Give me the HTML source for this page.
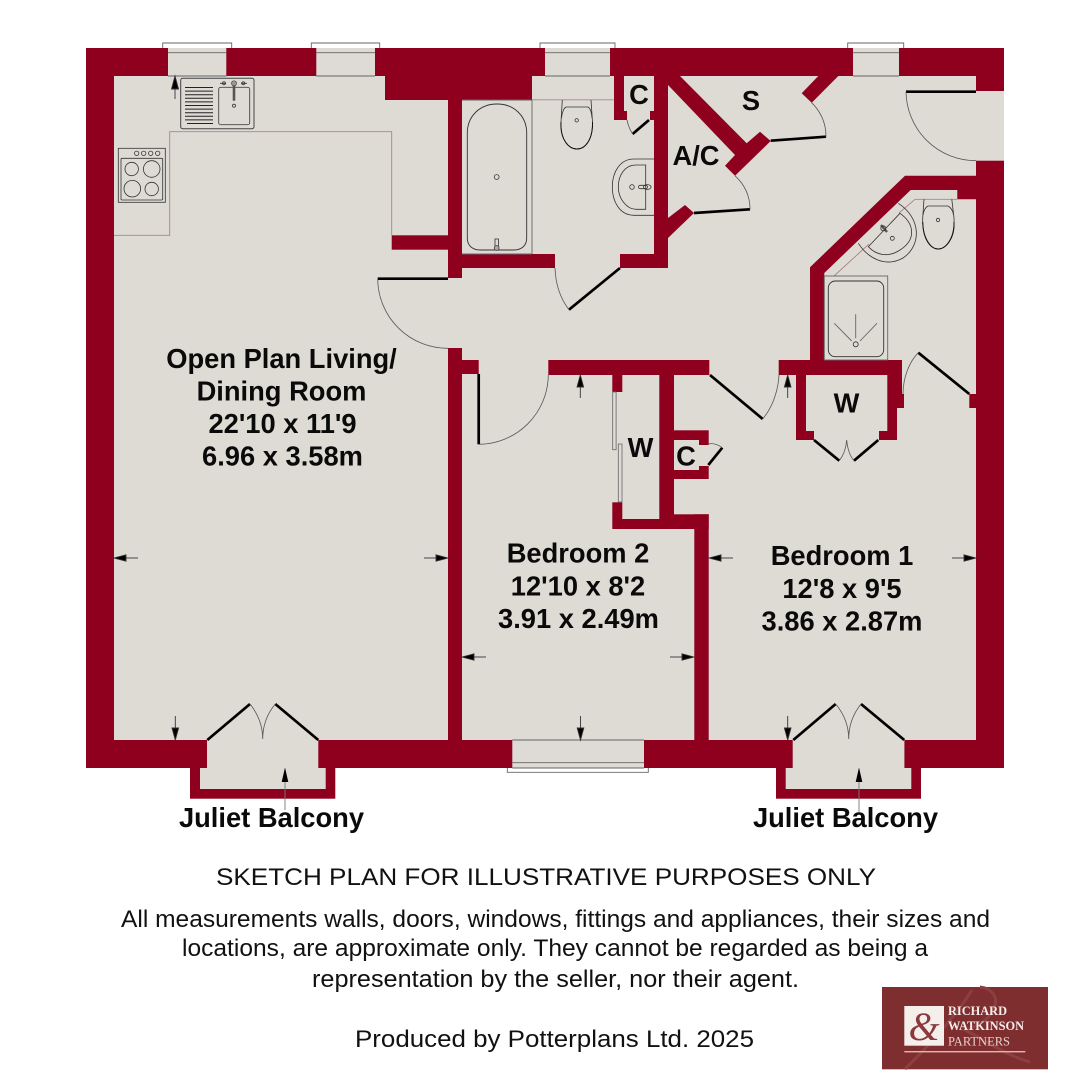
<!DOCTYPE html>
<html><head><meta charset="utf-8"><style>
html,body{margin:0;padding:0;background:#fff}
svg{display:block}
text{font-family:"Liberation Sans",sans-serif}
.b{font-weight:bold;font-size:27.3px;text-anchor:middle;fill:#0a0a0a}
.n{font-size:24px;fill:#111}
.w{fill:#8f001f}
.f{fill:#dedbd4}
.t{fill:none;stroke:#000;stroke-width:2.7}
.a{fill:none;stroke:#555;stroke-width:.8}
.g{fill:none;stroke:#666;stroke-width:.9}
.p{fill:none;stroke:#b0808a;stroke-width:.9}
.k{fill:none;stroke:#333;stroke-width:.9}
.s{stroke:#333;stroke-width:.8;fill:none}
</style></head><body>
<svg width="1088" height="1080" viewBox="0 0 1088 1080" xmlns="http://www.w3.org/2000/svg">
<rect width="1088" height="1080" fill="#fff"/>
<!-- outer shell -->
<rect class="w" x="86" y="48" width="918" height="720"/>
<rect class="w" x="190" y="768" width="145.300" height="30.700"/>
<rect class="w" x="776" y="768" width="145" height="30.700"/>
<rect class="f" x="114" y="76" width="862" height="664"/>
<!-- openings -->
<rect class="f" x="976" y="91" width="28" height="69.700"/>
<rect class="f" x="207" y="740" width="111.300" height="28"/>
<rect class="f" x="200" y="768" width="125.700" height="21"/>
<rect class="f" x="792.700" y="740" width="111.700" height="28"/>
<rect class="f" x="785.700" y="768" width="125.600" height="21"/>
<!-- windows -->
<g class="f">
<rect x="168" y="48" width="58.300" height="28"/>
<rect x="316.300" y="48" width="58.700" height="28"/>
<rect x="545" y="48" width="65" height="28"/>
<rect x="853" y="48" width="46" height="28"/>
<rect x="512.300" y="740" width="131.700" height="28"/>
</g>
<g class="g">
<path d="M162.700 48V43H231.700V48M168 52.700H226.300M168 76H226.300"/>
<path d="M311.300 48V43H379.700V48M316.300 52.700H375M316.300 76H375"/>
<path d="M540 48V43H615V48M545 52.700H610M545 76H610"/>
<path d="M847.700 48V43H903.700V48M853 52.700H899M853 76H899"/>
<path d="M512.300 740H644M512.300 762.700H644M512.300 768H644M507.300 768V772.300H648.300V768"/>
</g>
<!-- interior walls -->
<g class="w">
<rect x="385" y="76" width="147" height="24"/>
<rect x="448" y="100" width="14" height="178"/>
<rect x="391.700" y="235.300" width="56.300" height="14.400"/>
<rect x="462" y="254" width="93" height="14"/>
<rect x="620" y="254" width="48" height="14"/>
<rect x="654" y="76" width="14" height="192"/>
<rect x="614" y="76" width="10" height="44"/>
<rect x="614" y="111" width="13" height="9"/>
<rect x="650" y="111" width="4" height="9"/>
<polygon points="680,76 746.700,143.300 760,131.700 770.700,141 735,175.700 725,165.700 735,155 668,85 668,76"/>
<polygon points="668,218 685,205 694,213 668,238"/>
<polygon points="838.300,76 811.700,102.700 801.700,93.300 818.300,76"/>
<polygon points="905,175.700 976,175.700 976,199.300 957.300,199.300 957.300,190 910.700,190 824.300,273 824.300,360 810,360 810,267.300"/>
<rect x="778.700" y="360" width="123.300" height="15"/>
<rect x="796" y="375" width="10" height="65"/>
<rect x="796" y="431" width="18" height="9"/>
<rect x="887.300" y="375" width="9.700" height="65"/>
<rect x="879" y="431" width="18" height="9"/>
<rect x="897" y="375" width="5" height="19"/>
<rect x="897" y="394" width="7" height="14"/>
<rect x="969.300" y="394" width="6.700" height="14"/>
<rect x="448" y="348" width="14" height="392"/>
<rect x="462" y="360" width="16.700" height="14"/>
<rect x="548.300" y="360" width="161" height="15"/>
<rect x="612.300" y="375" width="10" height="17"/>
<rect x="612.300" y="502.300" width="10" height="17"/>
<rect x="612.300" y="519" width="82" height="10"/>
<rect x="659.300" y="375" width="14.700" height="145"/>
<rect x="674" y="514.300" width="34.700" height="14.700"/>
<rect x="694.300" y="514.300" width="14.400" height="226"/>
<rect x="674" y="430.300" width="34.700" height="9.700"/>
<rect x="699" y="440" width="9.700" height="5"/>
<rect x="699" y="466" width="9.700" height="4"/>
<rect x="674" y="470" width="34.700" height="9"/>
</g>
<!-- worktop and pink lines -->
<path class="p" d="M114 235.300H169.700V131.700H391.700V235.300"/>
<path class="p" d="M532 99.800H613.700"/>
<path class="p" d="M915 199.300H957.300M915 199.300L899 213M869 244L834 276"/>
<!-- doors -->
<g class="t">
<path d="M377.700 278.700H448"/>
<path d="M569 309.700L620 268"/>
<path d="M632.600 134L649 120"/>
<path d="M694 213L750 209.300"/>
<path d="M770.700 140.700L826 136.700"/>
<path d="M906 91.700H976"/>
<path d="M918.300 352.700L969.300 394"/>
<path d="M814 440L839.300 460.700M878.300 440L854 460.700"/>
<path d="M478.700 374V444.300"/>
<path d="M710 375L762.700 419"/>
<path d="M708.300 465L722.300 447.700"/>
<path d="M207.300 740L250 704M318.300 740L275.300 704"/>
<path d="M793.300 740L835.700 704M904.300 740L861 704"/>
</g>
<g class="a">
<path d="M377.700 278.700A70 70 0 0 0 448 348.300"/>
<path d="M555 268C555.500 283 560 298 569 309.700"/>
<path d="M627 120C628 125 630 130 632.600 134"/>
<path d="M735 175.700C745 185 750 197 750 209.300"/>
<path d="M811.700 102.700C821 112 826 124 826 136.700"/>
<path d="M906 91.700A70 70 0 0 0 976 160.700"/>
<path d="M918.300 352.700C909 362 903 378 903 394"/>
<path d="M846.700 440C846 449 843 456 839.300 460.700M846.700 440C847.500 449 850 456 854 460.700"/>
<path d="M478.700 444.300A70 70 0 0 0 548.300 375"/>
<path d="M762.700 419C772 408 778 392 779 375"/>
<path d="M722.300 447.700C717 444 713 443 708 444"/>
<path d="M250 704C258 714 262.700 726 262.700 739M275.300 704C267 714 262.700 726 262.700 739"/>
<path d="M835.700 704C844 714 848.700 726 848.700 739M861 704C853 714 848.700 726 848.700 739"/>
</g>
<!-- sliding wardrobe -->
<rect x="612.700" y="392" width="3.400" height="57.700" fill="#dedbd4" stroke="#666" stroke-width=".8"/>
<rect x="618.300" y="444" width="3.700" height="58" fill="#dedbd4" stroke="#666" stroke-width=".8"/>
<!-- sink -->
<rect x="180.700" y="78.300" width="73.300" height="50.400" rx="2" fill="#dedbd4" stroke="#444" stroke-width="1"/>
<rect x="218.700" y="87.300" width="31" height="37.400" rx="2" fill="none" stroke="#444" stroke-width=".9"/>
<path stroke="#222" stroke-width="1" d="M185 87.500H213M185 91.100H213M185 94.700H213M185 98.300H213M185 101.900H213M185 105.500H213M185 109.100H213M185 112.700H213M185 116.300H213M185 119.900H213M187 123.500H213"/>
<path d="M234 84V100.700" stroke="#555" stroke-width="2.600"/>
<circle cx="234" cy="83.300" r="2.500" fill="#999" stroke="#444" stroke-width=".7"/>
<circle cx="234" cy="105.700" r="1.500" fill="none" stroke="#333" stroke-width=".8"/>
<path class="s" d="M220 83.300H226M241 83.300H247"/>
<circle cx="224" cy="83.300" r="1.500" class="s"/><circle cx="243.300" cy="83.300" r="1.500" class="s"/>
<!-- hob -->
<g class="s">
<rect x="118.300" y="148.300" width="47" height="54"/>
<rect x="121" y="158.300" width="41.700" height="41.700" rx="1"/>
<circle cx="136.700" cy="153.300" r="2.200"/><circle cx="143.700" cy="153.300" r="2.200"/><circle cx="150.700" cy="153.300" r="2.200"/><circle cx="157.700" cy="153.300" r="2.200"/>
<circle cx="131.700" cy="169" r="6.700"/><circle cx="151.700" cy="169" r="8.300"/><circle cx="132.300" cy="188.700" r="8.300"/><circle cx="151.700" cy="189" r="6.700"/>
</g>
<!-- bath -->
<path class="g" d="M532 100V254"/>
<path class="g" d="M462 254H532M462 100H532"/>
<path class="k" stroke-width=".8" d="M467.300 133C467.300 116 480 104 497 104C514 104 526.700 116 526.700 133V238C526.700 246 521 250 514 250H480C473 250 467.300 246 467.300 238Z"/>
<circle cx="496.700" cy="177" r="2.400" class="s"/>
<rect x="495" y="239" width="3.400" height="7" class="s"/>
<circle cx="496.700" cy="248" r="2.400" fill="#aaa" stroke="#333" stroke-width=".7"/>
<!-- toilet -->
<path class="s" d="M562.300 100L561 122C560 140 569 149 577 149C585 149 593 140 592.500 122L591 100"/>
<path d="M561 122C560 140 569 149 577 149C585 149 593 140 592.500 122" fill="none" stroke="#111" stroke-width="1"/>
<path class="s" d="M561.500 118C562 112 564 108 566 107H588C590 108 591.500 112 592 118"/>
<circle cx="576.700" cy="120.300" r="1.700" class="s"/>
<!-- basin -->
<path class="s" d="M654 159H634C620 159 612.300 172 612.300 187C612.300 202 620 215.300 634 215.300H654"/>
<path class="s" d="M645.700 165H636C625 165 618.300 175 618.300 187C618.300 199 627 209.300 636 209.300H645.700Z"/>
<circle cx="632" cy="187" r="2.300" class="s"/>
<rect x="638.500" y="185.300" width="9" height="3.400" rx="1.700" class="s"/>
<ellipse cx="647.300" cy="187" rx="3.800" ry="2.400" class="s"/>
<!-- ensuite basin -->
<path class="s" d="M898.300 203.300C921 218 922 245 903 258C885 268 868 258 858.300 243.300"/>
<path class="s" d="M900 213.300C915 224 916 240 900 250C888 258 876 255 868.300 246.700Z"/>
<circle cx="892.300" cy="238.300" r="2" class="s"/>
<path d="M881 225L887 232" stroke="#555" stroke-width="2.400"/>
<circle cx="883.300" cy="228.300" r="2.500" class="s"/>
<!-- ensuite toilet -->
<path class="s" d="M924 199.300L922.700 218C922 238 931 249 938 249C946 249 955 238 954 218L951.800 199.300"/>
<path d="M922.700 222C923 240 931 249 938 249C946 249 955 238 954 222" fill="none" stroke="#111" stroke-width="1"/>
<path class="s" d="M923 215C924 209 926 207 928 206H948C950 207 953 210 953.500 215"/>
<circle cx="938" cy="220" r="1.700" class="s"/>
<!-- shower -->
<rect x="824.300" y="276" width="63.400" height="84" class="g"/>
<rect x="828.300" y="281" width="55.400" height="75.700" rx="7" class="k"/>
<circle cx="855.700" cy="344.300" r="2.500" class="s"/>
<path class="g" d="M855.700 314.300V338.300M834.300 323.300L851.700 341M877 323.300L860 341"/>
<!-- arrows -->
<g stroke="#333" stroke-width=".9" fill="#000">
<path d="M175 89V99"/><polygon points="175,76 171.500,89 178.500,89"/>
<path d="M580.300 386V398"/><polygon points="580.300,375 577,387 583.600,387"/>
<path d="M787.700 386V398"/><polygon points="787.700,375 784.400,387 791,387"/>
<path d="M175.300 716V728"/><polygon points="175.300,740 172,728 178.600,728"/>
<path d="M580.500 716V728"/><polygon points="580.500,740 577.200,728 583.800,728"/>
<path d="M787.700 716V728"/><polygon points="787.700,740 784.400,728 791,728"/>
<path d="M285 782V810" stroke="#777"/><polygon points="285,767.500 281.700,782 288.300,782" stroke="none"/>
<path d="M859 782V812" stroke="#777"/><polygon points="859,767.500 855.700,782 862.300,782" stroke="none"/>
<path d="M126 558H138"/><polygon points="114,558 126,554.800 126,561.200"/>
<path d="M424 558H436"/><polygon points="448,558 436,554.800 436,561.200"/>
<path d="M474 657H486"/><polygon points="462,657 474,653.800 474,660.200"/>
<path d="M670 657H682"/><polygon points="694,657 682,653.800 682,660.200"/>
<path d="M721 558H733"/><polygon points="709,558 721,554.800 721,561.200"/>
<path d="M952 558H964"/><polygon points="976,558 964,554.800 964,561.200"/>
</g>
<!-- labels -->
<text class="b" x="281.500" y="368">Open Plan Living/</text>
<text class="b" x="281.500" y="400.500">Dining Room</text>
<text class="b" x="282.500" y="433">22'10 x 11'9</text>
<text class="b" x="282.500" y="465.500">6.96 x 3.58m</text>
<text class="b" x="578" y="562.500">Bedroom 2</text>
<text class="b" x="578" y="595.500">12'10 x 8'2</text>
<text class="b" x="578.500" y="628">3.91 x 2.49m</text>
<text class="b" x="842" y="565">Bedroom 1</text>
<text class="b" x="842" y="598">12'8 x 9'5</text>
<text class="b" x="842" y="630.500">3.86 x 2.87m</text>
<text class="b" x="639" y="104">C</text>
<text class="b" x="751" y="110">S</text>
<text class="b" x="696" y="165">A/C</text>
<text class="b" x="846.500" y="412.500">W</text>
<text class="b" x="640.500" y="457">W</text>
<text class="b" x="686" y="465.500">C</text>
<text class="b" x="271.500" y="827">Juliet Balcony</text>
<text class="b" x="845.500" y="827">Juliet Balcony</text>
<text class="n" x="216" y="885" textLength="660" lengthAdjust="spacingAndGlyphs">SKETCH PLAN FOR ILLUSTRATIVE PURPOSES ONLY</text>
<text class="n" x="121" y="927" textLength="869" lengthAdjust="spacingAndGlyphs">All measurements walls, doors, windows, fittings and appliances, their sizes and</text>
<text class="n" x="182" y="956" textLength="746" lengthAdjust="spacingAndGlyphs">locations, are approximate only. They cannot be regarded as being a</text>
<text class="n" x="312" y="987" textLength="487" lengthAdjust="spacingAndGlyphs">representation by the seller, nor their agent.</text>
<text class="n" x="355" y="1047" textLength="399" lengthAdjust="spacingAndGlyphs">Produced by Potterplans Ltd. 2025</text>
<!-- logo -->
<rect x="882" y="987" width="166" height="82.300" fill="#7f2e30"/>
<path d="M905 1069C930 1045 960 1010 972 990M980 987C1005 990 1000 1020 965 1030C985 1040 1005 1055 1030 1062" fill="none" stroke="#8a3f40" stroke-width="3"/>
<rect x="904.300" y="1006" width="39.700" height="39.700" fill="#f5efec"/>
<text x="924" y="1040" font-size="40" font-style="italic" text-anchor="middle" fill="#8a3a3c" style="font-family:'Liberation Serif',serif">&amp;</text>
<text x="948" y="1015" font-size="12.500" font-weight="bold" fill="#f6ecea" textLength="59" lengthAdjust="spacingAndGlyphs" style="font-family:'Liberation Serif',serif">RICHARD</text>
<text x="948" y="1030" font-size="12.500" font-weight="bold" fill="#f6ecea" textLength="76" lengthAdjust="spacingAndGlyphs" style="font-family:'Liberation Serif',serif">WATKINSON</text>
<text x="948" y="1045.500" font-size="12.500" fill="#e8cfca" textLength="62" lengthAdjust="spacingAndGlyphs" style="font-family:'Liberation Serif',serif">PARTNERS</text>
<rect x="904.300" y="1051" width="121" height="1.400" fill="#e3b5ad"/>
</svg>
</body></html>
